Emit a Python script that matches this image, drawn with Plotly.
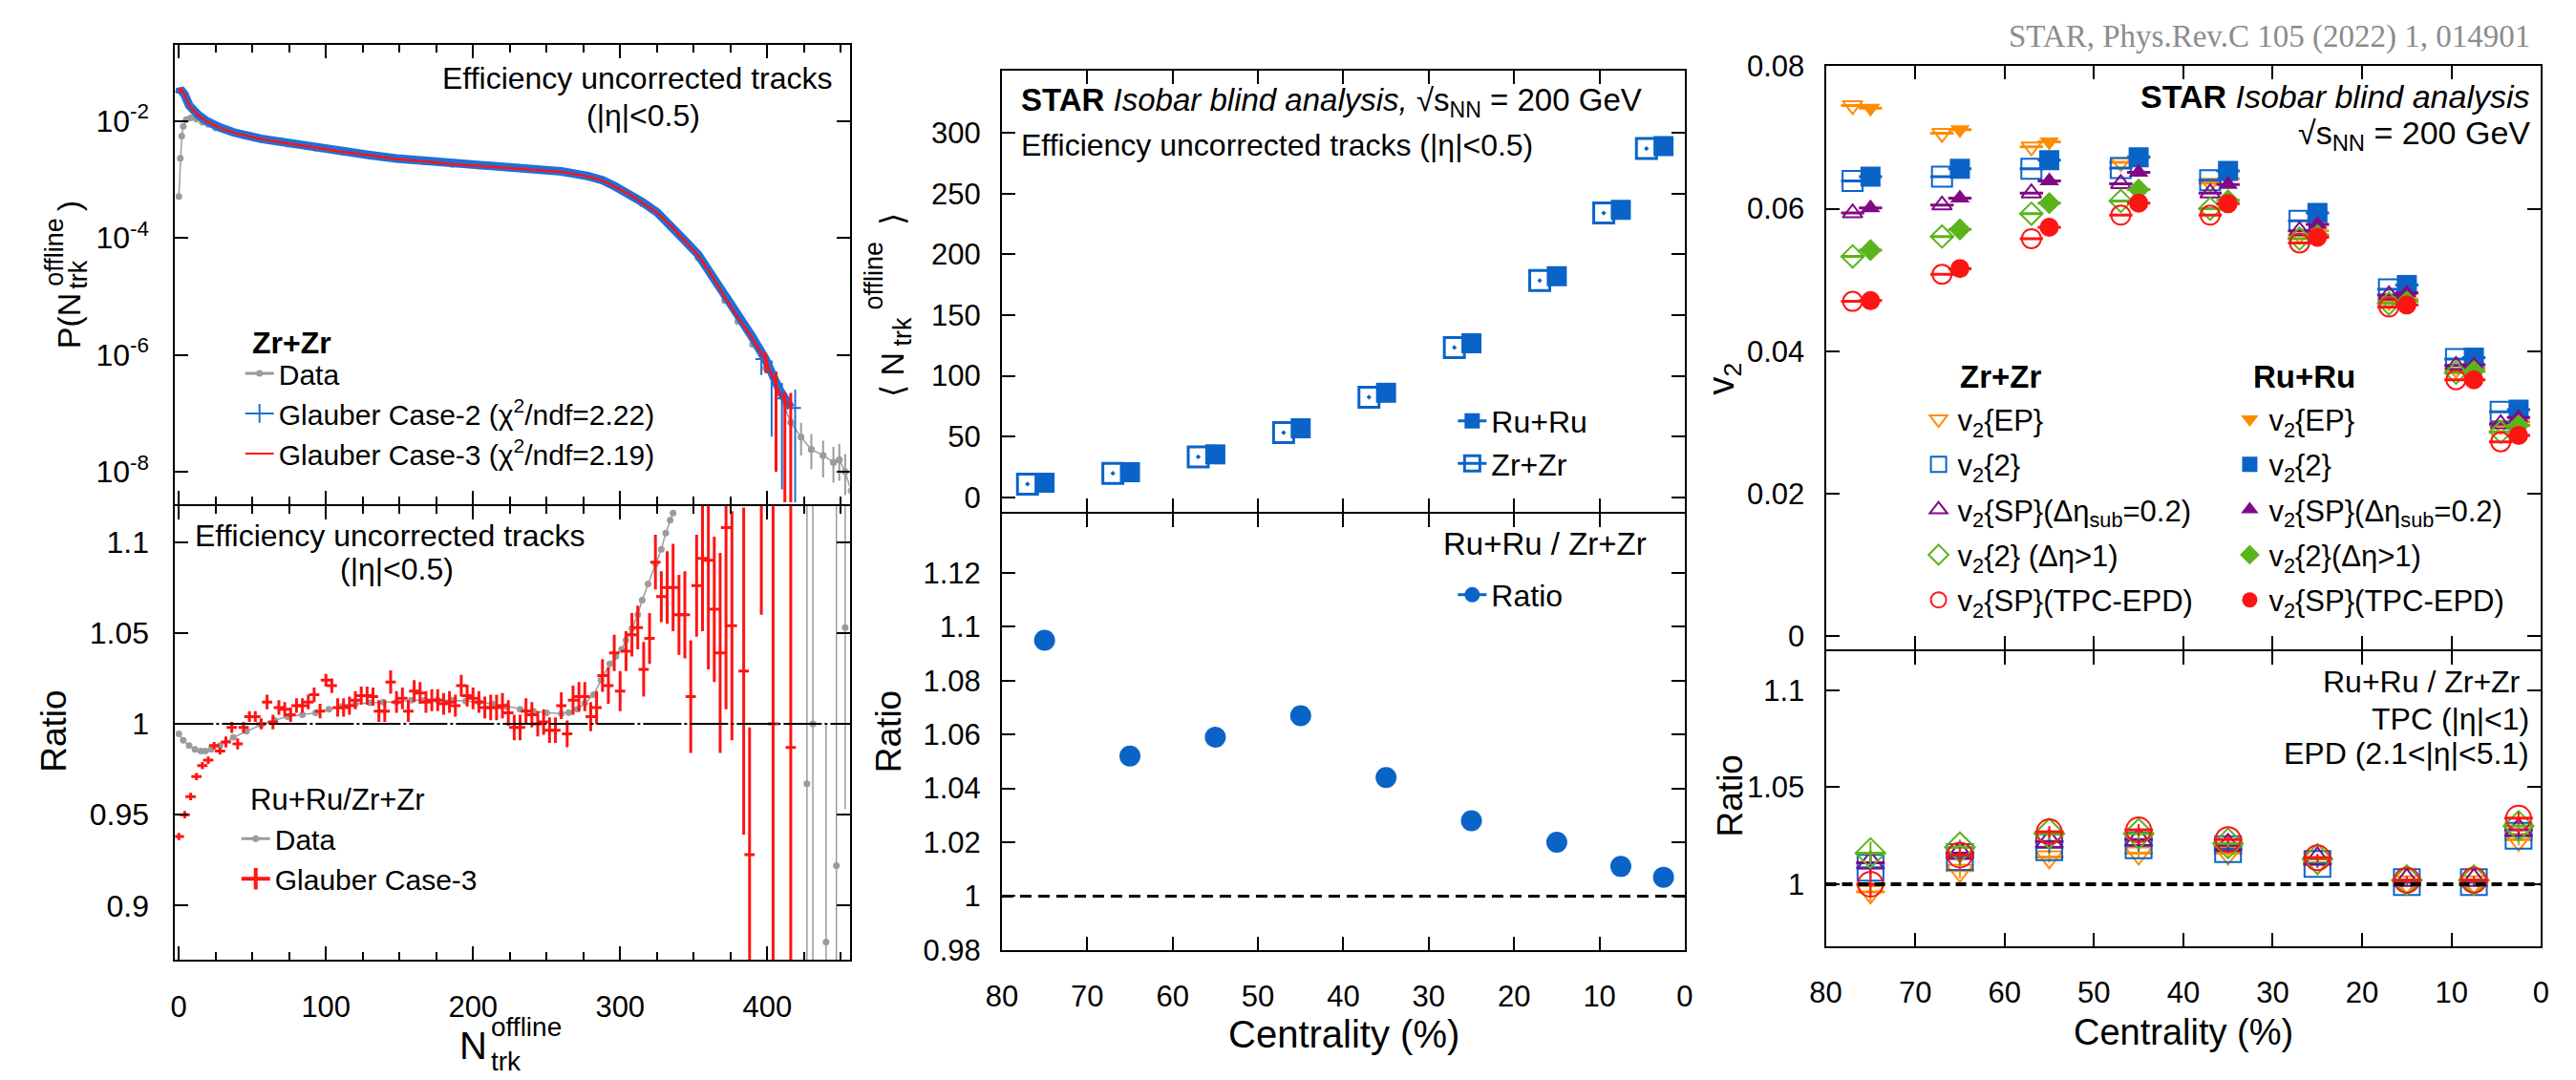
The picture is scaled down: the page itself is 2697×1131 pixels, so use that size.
import plotly.graph_objects as go

W, H = 2697, 1131
FONT = "Liberation Sans, Arial, Helvetica, sans-serif"
SERIF = "Liberation Serif, Times New Roman, serif"

BLUE = "#0a64c8"
CASE2_BLUE = "#1f70d8"
RED = "#ff1414"
GRAY = "#9b9b9b"
ORANGE = "#ff8c00"
PURPLE = "#800a84"
GREEN = "#5bb41b"

# ---------------- multiplicity distribution (Zr+Zr) ----------------
n_glauber = [0, 1, 4, 7, 13, 19, 28, 37, 56, 74, 93, 111, 130, 148, 167, 186, 204, 223,
             241, 260, 278, 288, 297, 306, 315, 325, 334, 343, 353, 362, 371, 380, 390,
             399, 408, 416]
p_case3 = [3.02e-2, 3.63e-2, 2.82e-2, 1.82e-2, 1.26e-2, 9.8e-3, 7.6e-3, 6.3e-3, 4.9e-3,
           4.1e-3, 3.5e-3, 2.95e-3, 2.57e-3, 2.24e-3, 2.04e-3, 1.82e-3, 1.70e-3, 1.58e-3,
           1.48e-3, 1.35e-3, 1.12e-3, 9.5e-4, 7.4e-4, 5.6e-4, 4.0e-4, 2.7e-4, 1.66e-4,
           9.3e-5, 5.0e-5, 2.34e-5, 9.8e-6, 4.4e-6, 1.9e-6, 7.9e-7, 2.3e-7, 1.23e-7]
p_case2 = [2.9e-2, 3.5e-2, 2.8e-2, 1.85e-2, 1.28e-2, 9.9e-3, 7.7e-3, 6.4e-3, 4.95e-3,
           4.15e-3, 3.55e-3, 3.0e-3, 2.6e-3, 2.27e-3, 2.06e-3, 1.84e-3, 1.72e-3, 1.60e-3,
           1.50e-3, 1.37e-3, 1.14e-3, 9.7e-4, 7.5e-4, 5.7e-4, 4.1e-4, 2.75e-4, 1.7e-4,
           9.5e-5, 5.2e-5, 2.4e-5, 1.0e-5, 4.6e-6, 2.0e-6, 8.3e-7, 2.6e-7, 1.25e-7]

n_case2_tail = [396, 403, 410, 419]
p_case2_tail = [8.5e-7, 5.0e-7, 1.8e-7, 1.23e-7]
p_case2_tail_up = [4e-7, 3e-7, 1.5e-7, 1.3e-7]
p_case2_tail_dn = [4e-7, 4.6e-7, 1.75e-7, 1.2e-7]
n_case3_tail = [399, 406, 412, 416]
p_case3_tail = [7.9e-7, 3.0e-7, 1.3e-7, 1.23e-7]
p_case3_tail_up = [3e-7, 2e-7, 1.0e-7, 1.0e-7]
p_case3_tail_dn = [3e-7, 2.9e-7, 1.27e-7, 1.2e-7]

n_data = [0, 1, 2, 3, 5, 8, 12, 16, 20, 25, 37, 56, 74, 93, 111, 130, 148, 167, 186, 204,
          223, 241, 260, 278, 297, 315, 334, 353, 371, 380, 390, 399, 408, 416, 423, 430,
          438, 445, 449, 453, 457]
p_data = [5.1e-4, 2.3e-3, 5.5e-3, 8.1e-3, 1.05e-2, 1.12e-2, 1.07e-2, 9.5e-3, 8.7e-3,
          7.6e-3, 6.2e-3, 4.8e-3, 4.0e-3, 3.4e-3, 2.9e-3, 2.5e-3, 2.2e-3, 2.0e-3, 1.8e-3,
          1.68e-3, 1.56e-3, 1.46e-3, 1.33e-3, 1.1e-3, 7.2e-4, 3.8e-4, 1.55e-4, 4.5e-5,
          8.5e-6, 3.7e-6, 1.5e-6, 6.0e-7, 2.2e-7, 7.0e-8, 3.9e-8, 2.4e-8, 1.9e-8, 1.45e-8,
          1.6e-8, 1.0e-8, 4.7e-9]
DATA_TAIL = 33
p_data_tail_up = [4e-8, 3e-8, 2e-8, 1.5e-8, 1.2e-8, 1.4e-8, 1.0e-8, 6e-9]
p_data_tail_dn = [3e-8, 2e-8, 1.3e-8, 1.1e-8, 8e-9, 9e-9, 6e-9, 3e-9]

# ---------------- Ru+Ru / Zr+Zr multiplicity ratio ----------------
n_ratio3 = [0, 4, 8, 12, 16, 20, 24, 28, 32, 36, 40, 44, 48, 52, 56, 60, 64, 68, 72, 76,
            80, 84, 88, 92, 96, 100, 104, 108, 112, 116, 120, 124, 128, 132, 136, 140, 144,
            148, 152, 156, 160, 164, 168, 172, 176, 180, 184, 188, 192, 196, 200, 204, 208,
            212, 216, 220, 224, 228, 232, 236, 240, 244, 248, 252, 256, 260, 264, 268, 272,
            276, 280, 284, 288, 292, 296, 300, 304, 308, 312, 316, 320, 324, 328, 332, 336,
            340, 344, 348, 352, 356, 360, 364, 368, 372, 376, 384, 388, 396, 404, 416]
ratio3 = [0.938, 0.950, 0.960, 0.971, 0.977, 0.980, 0.988, 0.985, 0.990, 0.998, 0.989,
          0.998, 1.004, 1.004, 1.000, 1.012, 1.001, 1.009, 1.008, 1.005, 1.010, 1.010,
          1.012, 1.016, 1.007, 1.024, 1.021, 1.009, 1.009, 1.010, 1.013, 1.0155, 1.0155,
          1.015, 1.007, 1.007, 1.023, 1.012, 1.014, 1.007, 1.018, 1.017, 1.012, 1.013,
          1.013, 1.011, 1.012, 1.010, 1.021, 1.0155, 1.014, 1.012, 1.009, 1.009, 1.009,
          1.010, 1.006, 0.998, 0.998, 1.007, 1.005, 1.000, 1.001, 0.9965, 0.9965, 1.010,
          0.9945, 1.013, 1.015, 1.015, 1.004, 1.009, 1.0266, 1.021, 1.039, 1.018, 1.040,
          1.049, 1.053, 1.030, 1.047, 1.089, 1.070, 1.075, 1.075, 1.060, 1.060, 1.015,
          1.076, 1.091, 1.090, 1.063, 1.039, 1.108, 1.054, 1.029, 0.928, 1.160, 1.000,
          0.987]
ratio3_err = [0.002, 0.002, 0.002, 0.002, 0.002, 0.002, 0.002, 0.002, 0.003, 0.003, 0.003,
              0.003, 0.003, 0.003, 0.003, 0.004, 0.004, 0.004, 0.004, 0.004, 0.004, 0.004,
              0.004, 0.004, 0.004, 0.0035, 0.004, 0.005, 0.005, 0.005, 0.005, 0.005, 0.005,
              0.005, 0.006, 0.006, 0.0064, 0.006, 0.006, 0.006, 0.006, 0.006, 0.006, 0.006,
              0.006, 0.006, 0.006, 0.006, 0.006, 0.006, 0.006, 0.006, 0.006, 0.007, 0.007,
              0.007, 0.007, 0.007, 0.007, 0.007, 0.007, 0.007, 0.007, 0.007, 0.007, 0.0074,
              0.0074, 0.008, 0.008, 0.008, 0.008, 0.009, 0.009, 0.010, 0.010, 0.011, 0.011,
              0.012, 0.012, 0.015, 0.014, 0.015, 0.014, 0.020, 0.024, 0.022, 0.024, 0.031,
              0.028, 0.040, 0.060, 0.040, 0.055, 0.100, 0.063, 0.090, 0.070, 0.100, 0.150,
              0.150]

n_ratio_data = [0, 3, 7, 11, 15, 18, 22, 28, 37, 46, 56, 65, 74, 84, 93, 102, 111, 120, 130,
                139, 148, 158, 167, 176, 186, 195, 204, 213, 223, 232, 241, 250, 260, 265,
                271, 276, 282, 287, 293, 297, 301, 304, 308, 312, 315, 319, 324, 328, 331,
                334, 336]
ratio_data = [0.9945, 0.991, 0.988, 0.986, 0.985, 0.985, 0.986, 0.988, 0.9925, 0.996,
              0.9995, 1.002, 1.004, 1.005, 1.006, 1.008, 1.0096, 1.011, 1.0116, 1.012, 1.012,
              1.013, 1.013, 1.013, 1.013, 1.0125, 1.012, 1.011, 1.0096, 1.008, 1.007, 1.006,
              1.0057, 1.0062, 1.008, 1.0115, 1.016, 1.024, 1.033, 1.037, 1.041, 1.046,
              1.0525, 1.060, 1.068, 1.077, 1.088, 1.096, 1.105, 1.112, 1.116]
n_ratio_data_tail = [427, 431, 440, 447, 453]
ratio_data_tail = [0.967, 1.000, 0.880, 0.922, 1.053]
ratio_data_tail_err = [0.17, 0.15, 0.12, 0.20, 0.10]

# ---------------- centrality dependence ----------------
centrality = [75, 65, 55, 45, 35, 25, 15, 7.5, 2.5]
nch_zr = [10.9, 19.7, 33.3, 53.2, 82.4, 123.3, 178.4, 234.0, 287.0]
nch_ru = [11.9, 20.7, 35.3, 56.8, 86.0, 126.8, 182.0, 236.5, 289.0]
nch_ratio = [1.095, 1.052, 1.059, 1.067, 1.044, 1.028, 1.020, 1.011, 1.007]

v2_ep_zr = [0.0745, 0.0706, 0.0687, 0.0665, 0.0636, 0.0563, 0.0470, 0.0375, 0.0296]
v2_ep_ru = [0.0741, 0.0711, 0.0694, 0.0673, 0.0642, 0.0569, 0.0473, 0.0376, 0.0301]
v2_2_zr = [0.0639, 0.0645, 0.0656, 0.0657, 0.0640, 0.0583, 0.0487, 0.0389, 0.0315]
v2_2_ru = [0.0645, 0.0656, 0.0668, 0.0672, 0.0653, 0.0594, 0.0493, 0.0391, 0.0318]
v2_sp_zr = [0.0594, 0.0605, 0.0622, 0.0635, 0.0622, 0.0569, 0.0479, 0.0380, 0.0298]
v2_sp_ru = [0.0601, 0.0615, 0.0639, 0.0651, 0.0634, 0.0578, 0.0482, 0.0381, 0.0307]
v2_gap_zr = [0.0533, 0.0561, 0.0593, 0.0611, 0.0600, 0.0558, 0.0467, 0.0370, 0.0287]
v2_gap_ru = [0.0542, 0.0571, 0.0608, 0.0627, 0.0612, 0.0563, 0.0470, 0.0372, 0.0296]
v2_epd_zr = [0.0470, 0.0508, 0.0558, 0.0591, 0.0591, 0.0552, 0.0462, 0.0360, 0.0273]
v2_epd_ru = [0.0471, 0.0516, 0.0574, 0.0608, 0.0607, 0.0560, 0.0465, 0.0360, 0.0282]

ratio_ep = [0.996, 1.007, 1.014, 1.016, 1.016, 1.011, 1.001, 1.001, 1.023]
ratio_2 = [1.0085, 1.014, 1.019, 1.020, 1.018, 1.0104, 1.001, 1.001, 1.025]
ratio_sp = [1.011, 1.016, 1.022, 1.023, 1.020, 1.013, 1.002, 1.002, 1.028]
ratio_gap = [1.016, 1.019, 1.026, 1.026, 1.021, 1.013, 1.002, 1.002, 1.030]
ratio_epd = [1.000, 1.015, 1.027, 1.028, 1.023, 1.0136, 1.002, 1.002, 1.034]
ratio_stat = [0.006, 0.004, 0.003, 0.003, 0.002, 0.002, 0.002, 0.002, 0.003]

ZR_SHIFT = 2.0      # Zr+Zr points drawn slightly left of Ru+Ru
SYS_HALF = 1.3      # half-width of systematic bars (centrality %)

cent_zr = [c + ZR_SHIFT for c in centrality]

fig = go.Figure()


def add(trace, xa, ya):
    trace.update(xaxis=xa, yaxis=ya)
    fig.add_trace(trace)


# ---- left top: P(N) ----
add(go.Scatter(x=n_data, y=p_data, mode="lines+markers", showlegend=False,
               line=dict(color=GRAY, width=1.5), marker=dict(color=GRAY, size=7)), "x", "y")
add(go.Scatter(x=n_data[DATA_TAIL:], y=p_data[DATA_TAIL:], mode="markers", showlegend=False,
               marker=dict(color=GRAY, size=7),
               error_y=dict(type="data", array=p_data_tail_up, arrayminus=p_data_tail_dn,
                            color=GRAY, thickness=2, width=0)), "x", "y")
add(go.Scatter(x=n_glauber, y=p_case2, mode="lines", showlegend=False,
               line=dict(color=CASE2_BLUE, width=9)), "x", "y")
add(go.Scatter(x=n_case2_tail, y=p_case2_tail, mode="markers", showlegend=False,
               marker=dict(color=CASE2_BLUE, size=2),
               error_x=dict(type="constant", value=4, color=CASE2_BLUE, thickness=2, width=0),
               error_y=dict(type="data", array=p_case2_tail_up, arrayminus=p_case2_tail_dn,
                            color=CASE2_BLUE, thickness=2, width=0)), "x", "y")
add(go.Scatter(x=n_glauber, y=p_case3, mode="lines", showlegend=False,
               line=dict(color=RED, width=2.5)), "x", "y")
add(go.Scatter(x=n_case3_tail, y=p_case3_tail, mode="markers", showlegend=False,
               marker=dict(color=RED, size=2),
               error_y=dict(type="data", array=p_case3_tail_up, arrayminus=p_case3_tail_dn,
                            color=RED, thickness=3, width=0)), "x", "y")

# ---- left bottom: ratio ----
add(go.Scatter(x=n_ratio_data, y=ratio_data, mode="lines+markers", showlegend=False,
               line=dict(color=GRAY, width=1.5), marker=dict(color=GRAY, size=7)), "x2", "y2")
add(go.Scatter(x=n_ratio_data_tail, y=ratio_data_tail, mode="markers", showlegend=False,
               marker=dict(color=GRAY, size=7),
               error_y=dict(type="data", array=ratio_data_tail_err, color=GRAY,
                            thickness=1.5, width=0)), "x2", "y2")
add(go.Scatter(x=n_ratio3, y=ratio3, mode="markers", showlegend=False,
               marker=dict(color=RED, size=2),
               error_x=dict(type="constant", value=3.5, color=RED, thickness=3, width=0),
               error_y=dict(type="data", array=ratio3_err, color=RED, thickness=3, width=0)),
    "x2", "y2")

# ---- middle top: <N> vs centrality ----
add(go.Scatter(x=cent_zr, y=nch_zr, mode="markers", showlegend=False,
               marker=dict(symbol="square-open-dot", size=21, color=BLUE,
                           line=dict(width=3, color=BLUE))), "x3", "y3")
add(go.Scatter(x=centrality, y=nch_ru, mode="markers", showlegend=False,
               marker=dict(symbol="square", size=21, color=BLUE)), "x3", "y3")
# ---- middle bottom: ratio ----
add(go.Scatter(x=centrality, y=nch_ratio, mode="markers", showlegend=False,
               marker=dict(symbol="circle", size=22, color=BLUE)), "x4", "y4")

# ---- right top: v2 ----
methods = [
    (v2_ep_zr, v2_ep_ru, ratio_ep, ORANGE, "triangle-down", 18),
    (v2_2_zr, v2_2_ru, ratio_2, BLUE, "square", 21),
    (v2_sp_zr, v2_sp_ru, ratio_sp, PURPLE, "triangle-up", 18),
    (v2_gap_zr, v2_gap_ru, ratio_gap, GREEN, "diamond", 18),
    (v2_epd_zr, v2_epd_ru, ratio_epd, RED, "circle", 20),
]
for zr, ru, rat, col, sym, size in methods:
    sysbar = dict(type="constant", value=SYS_HALF, color=col, thickness=3, width=0)
    add(go.Scatter(x=cent_zr, y=zr, mode="markers", showlegend=False,
                   marker=dict(symbol=sym + "-open", size=size, color=col,
                               line=dict(width=2, color=col)),
                   error_x=sysbar), "x5", "y5")
    add(go.Scatter(x=centrality, y=ru, mode="markers", showlegend=False,
                   marker=dict(symbol=sym, size=size, color=col), error_x=sysbar), "x5", "y5")
for zr, ru, rat, col, sym, size in methods:
    add(go.Scatter(x=centrality, y=rat, mode="markers", showlegend=False,
                   marker=dict(symbol=sym + "-open", size=size + 6, color=col,
                               line=dict(width=2, color=col)),
                   error_x=dict(type="constant", value=1.6, color=col, thickness=3, width=0),
                   error_y=dict(type="data", array=ratio_stat, color=col, thickness=2,
                                width=0)), "x6", "y6")


# ---- legend entries ----
def legend_entry(name, legend, xa, ya, mode, marker, line=None):
    tr = go.Scatter(x=[None], y=[None], mode=mode, name=name, legend=legend,
                    legendgroup=legend + name, marker=marker, showlegend=True)
    if line is not None:
        tr.update(line=line)
    add(tr, xa, ya)


legend_entry("Data", "legend", "x", "y", "lines+markers",
             dict(color=GRAY, size=7), dict(color=GRAY, width=3))
legend_entry("Glauber Case-2 (χ<sup>2</sup>/ndf=2.22)", "legend", "x", "y", "lines+markers",
             dict(symbol="line-ns-open", size=14, color=CASE2_BLUE,
                  line=dict(color=CASE2_BLUE, width=2)), dict(color=CASE2_BLUE, width=2))
legend_entry("Glauber Case-3 (χ<sup>2</sup>/ndf=2.19)", "legend", "x", "y", "lines",
             dict(color=RED), dict(color=RED, width=2))
legend_entry("Data", "legend2", "x2", "y2", "lines+markers",
             dict(color=GRAY, size=7), dict(color=GRAY, width=3))
legend_entry("Glauber Case-3", "legend2", "x2", "y2", "lines+markers",
             dict(symbol="line-ns-open", size=16, color=RED, line=dict(color=RED, width=4)),
             dict(color=RED, width=4))
legend_entry("Ru+Ru", "legend3", "x3", "y3", "lines+markers",
             dict(symbol="square", size=16, color=BLUE), dict(color=BLUE, width=3))
legend_entry("Zr+Zr", "legend3", "x3", "y3", "lines+markers",
             dict(symbol="square-open", size=16, color=BLUE, line=dict(width=3, color=BLUE)),
             dict(color=BLUE, width=3))
legend_entry("Ratio", "legend4", "x4", "y4", "lines+markers",
             dict(symbol="circle", size=16, color=BLUE), dict(color=BLUE, width=3))

zr_names = ["v<sub>2</sub>{EP}", "v<sub>2</sub>{2}", "v<sub>2</sub>{SP}(Δη<sub>sub</sub>=0.2)",
            "v<sub>2</sub>{2} (Δη&gt;1)", "v<sub>2</sub>{SP}(TPC-EPD)"]
ru_names = ["v<sub>2</sub>{EP}", "v<sub>2</sub>{2}", "v<sub>2</sub>{SP}(Δη<sub>sub</sub>=0.2)",
            "v<sub>2</sub>{2}(Δη&gt;1)", "v<sub>2</sub>{SP}(TPC-EPD)"]
for (zr, ru, rat, col, sym, size), nz, nr in zip(methods, zr_names, ru_names):
    legend_entry(nz, "legend5", "x5", "y5", "markers",
                 dict(symbol=sym + "-open", size=16, color=col, line=dict(width=2, color=col)))
    legend_entry(nr, "legend6", "x5", "y5", "markers",
                 dict(symbol=sym, size=16, color=col))


# ---------------- axes ----------------
def px(x):
    return x / W


def py(y):
    return 1 - y / H


base = dict(showline=True, linecolor="black", linewidth=2, mirror="ticks", ticks="inside",
            ticklen=14, tickwidth=2, tickcolor="black", showgrid=False, zeroline=False,
            tickfont=dict(family=FONT, size=31, color="black"))
xbase = dict(base, ticklabelstandoff=20)
ybase = dict(base, ticklabelstandoff=14)
ybase_left = dict(base, ticklabelstandoff=19, tickfont=dict(family=FONT, size=32, color="black"))

minor_n = dict(ticks="inside", ticklen=8, dtick=25, tick0=0, tickwidth=2, tickcolor="black",
               showgrid=False)

LX = [px(168), px(881)]
MX = [px(1042), px(1764)]
RX = [px(1913), px(2669)]
LINE_OVERLAP = 2   # shift lower panels so the shared frame line is drawn once

layout_axes = dict(
    xaxis=dict(xbase, domain=LX, range=[-2.5, 456], anchor="y", tick0=0, dtick=100,
               minor=minor_n, showticklabels=False),
    yaxis=dict(ybase_left, domain=[py(527), py(31)], type="log", range=[-8.55, -0.70],
               anchor="x", tickvals=[1e-8, 1e-6, 1e-4, 1e-2],
               ticktext=["10<sup>-8</sup>", "10<sup>-6</sup>", "10<sup>-4</sup>",
                         "10<sup>-2</sup>"]),
    xaxis2=dict(xbase, domain=LX, range=[-2.5, 456], anchor="y2", tick0=0, dtick=100,
                minor=minor_n),
    yaxis2=dict(ybase_left, domain=[py(1020), py(527 + LINE_OVERLAP)], range=[0.87, 1.12],
                anchor="x2", tickvals=[0.9, 0.95, 1.0, 1.05, 1.1],
                ticktext=["0.9", "0.95", "1", "1.05", "1.1"]),
    xaxis3=dict(xbase, domain=MX, range=[80, 0], anchor="y3", dtick=10, showticklabels=False),
    yaxis3=dict(ybase, domain=[py(535.6), py(59)], range=[-12, 351], anchor="x3",
                tickvals=[0, 50, 100, 150, 200, 250, 300]),
    xaxis4=dict(xbase, domain=MX, range=[80, 0], anchor="y4", dtick=10),
    yaxis4=dict(ybase, domain=[py(1009), py(535.6 + LINE_OVERLAP)], range=[0.98, 1.142],
                anchor="x4", tickvals=[0.98, 1.0, 1.02, 1.04, 1.06, 1.08, 1.1, 1.12],
                ticktext=["0.98", "1", "1.02", "1.04", "1.06", "1.08", "1.1", "1.12"]),
    xaxis5=dict(xbase, domain=RX, range=[80, 0], anchor="y5", dtick=10, showticklabels=False),
    yaxis5=dict(ybase, domain=[py(684), py(54)], range=[-0.0018, 0.08], anchor="x5",
                tickvals=[0, 0.02, 0.04, 0.06, 0.08],
                ticktext=["0", "0.02", "0.04", "0.06", "0.08"]),
    xaxis6=dict(xbase, domain=RX, range=[80, 0], anchor="y6", dtick=10),
    yaxis6=dict(ybase, domain=[py(1005), py(684 + LINE_OVERLAP)], range=[0.968, 1.1202],
                anchor="x6", tickvals=[1.0, 1.05, 1.1], ticktext=["1", "1.05", "1.1"]),
)


# ---------------- text ----------------
def txt(text, x, y, size=31, xanchor="left", angle=0, color="black", family=FONT,
        align="center"):
    return dict(text=text, x=px(x), y=py(y), xref="paper", yref="paper", showarrow=False,
                xanchor=xanchor, yanchor="middle", textangle=angle, align=align,
                font=dict(family=family, size=size, color=color))


annotations = [
    # left panel
    txt("Efficiency uncorrected tracks", 864, 67, 32, "right"),
    txt("(|η|&lt;0.5)", 663, 107, 32, "center"),
    txt("<b>Zr+Zr</b>", 247, 353, 32),
    txt("Efficiency uncorrected tracks", 187, 561, 32),
    txt("(|η|&lt;0.5)", 402, 597, 32, "center"),
    txt("Ru+Ru/Zr+Zr", 245, 847, 31),
    txt("P(N", 55, 329, 34, "center", -90),
    txt("offline", 40, 255, 27, "center", -90),
    txt("trk", 66, 279, 27, "center", -90),
    txt(")", 55, 205, 34, "center", -90),
    txt("Ratio", 39, 773, 37, "center", -90),
    txt("N", 483, 1112, 40, "center"),
    txt("offline<br>trk", 500, 1111, 28, "left", align="left"),
    # middle panel
    txt("<b>STAR</b> <i>Isobar blind analysis,</i> √s<sub>NN</sub> = 200 GeV", 1060, 93, 33),
    txt("Efficiency uncorrected tracks (|η|&lt;0.5)", 1060, 139, 32),
    txt("Ru+Ru / Zr+Zr", 1726, 570, 33, "right"),
    txt("⟨ N", 926, 388, 34, "center", -90),
    txt("trk", 937, 341, 27, "center", -90),
    txt("offline", 907, 280, 27, "center", -90),
    txt("⟩", 926, 220, 34, "center", -90),
    txt("Ratio", 922, 773, 37, "center", -90),
    txt("Centrality (%)", 1404, 1100, 40, "center"),
    # right panel
    txt("STAR, Phys.Rev.C 105 (2022) 1, 014901", 2660, 22, 33, "right", color="#8c8c8c",
        family=SERIF),
    txt("<b>STAR</b> <i>Isobar blind analysis</i>", 2660, 87, 34, "right"),
    txt("√s<sub>NN</sub> = 200 GeV", 2660, 128, 34, "right"),
    txt("<b>Zr+Zr</b>", 2053, 390, 33),
    txt("<b>Ru+Ru</b>", 2363, 390, 33),
    txt("v<sub>2</sub>", 1805, 392, 38, "center", -90),
    txt("Ru+Ru / Zr+Zr", 2650, 719, 32, "right"),
    txt("TPC (|η|&lt;1)", 2659, 759, 32, "right"),
    txt("EPD (2.1&lt;|η|&lt;5.1)", 2659, 797, 32, "right"),
    txt("Ratio", 1812, 843, 37, "center", -90),
    txt("Centrality (%)", 2291, 1098, 38, "center"),
]

shapes = [
    dict(type="line", xref="x2 domain", yref="y2", x0=0, x1=1, y0=1, y1=1,
         line=dict(color="black", width=2, dash="40px,3px,3px,3px")),
    dict(type="line", xref="x4 domain", yref="y4", x0=0, x1=1, y0=1, y1=1,
         line=dict(color="black", width=3, dash="12px,7px")),
    dict(type="line", xref="x6 domain", yref="y6", x0=0, x1=1, y0=1, y1=1,
         line=dict(color="black", width=4, dash="11px,6px")),
]


def legend_box(text_left, first_row, size, gap=0):
    return dict(x=px(text_left - 45), y=py(first_row - 24), xanchor="left", yanchor="top",
                bgcolor="rgba(0,0,0,0)", borderwidth=0, tracegroupgap=gap,
                font=dict(family=FONT, size=size, color="black"), itemclick=False,
                itemdoubleclick=False)


fig.update_layout(
    width=W, height=H, margin=dict(l=0, r=0, t=0, b=0),
    paper_bgcolor="white", plot_bgcolor="white", showlegend=True,
    font=dict(family=FONT, color="black"),
    annotations=annotations, shapes=shapes,
    legend=legend_box(282, 383, 30),
    legend2=legend_box(278, 886, 30),
    legend3=legend_box(1564, 433, 32),
    legend4=legend_box(1564, 621, 32),
    legend5=legend_box(2057, 432, 31, 4),
    legend6=legend_box(2386, 432, 31, 4),
    **layout_axes,
)

fig.write_html("out.html")
